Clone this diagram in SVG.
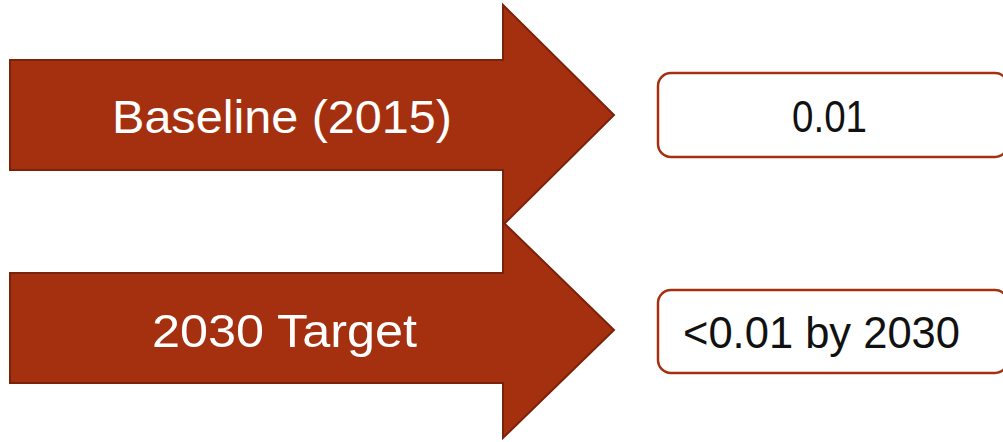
<svg xmlns="http://www.w3.org/2000/svg" width="1003" height="442" viewBox="0 0 1003 442">
<style>
.arrow{fill:#A5300F;stroke:#7B220A;stroke-width:2;stroke-linejoin:miter}
.box{fill:#FFFFFF;stroke:#A5300F;stroke-width:2.5}
.lbl{font-family:"Liberation Sans",Arial,sans-serif;font-size:46px;fill:#FFFFFF}
.val{font-family:"Liberation Sans",Arial,sans-serif;font-size:44px;fill:#111111}
</style>
<rect width="1003" height="442" fill="#FFFFFF"/>
<g id="arrow-baseline">
<polygon class="arrow" points="10,60 503,60 503,5 614,115 503,225 503,170 10,170"/>
<text class="lbl" x="112" y="133" textLength="340" lengthAdjust="spacingAndGlyphs">Baseline (2015)</text>
</g>
<g id="arrow-target">
<polygon class="arrow" points="10,273 503,273 503,222 614,330 503,438 503,383 10,383"/>
<text class="lbl" x="152" y="347" textLength="265" lengthAdjust="spacingAndGlyphs">2030 Target</text>
</g>
<g id="box-baseline">
<rect class="box" x="658" y="73" width="350" height="84" rx="13" ry="13"/>
<text class="val" x="792" y="132" textLength="75" lengthAdjust="spacingAndGlyphs">0.01</text>
</g>
<g id="box-target">
<rect class="box" x="658" y="290" width="350" height="83" rx="13" ry="13"/>
<text class="val" x="683" y="348" textLength="277" lengthAdjust="spacingAndGlyphs">&lt;0.01 by 2030</text>
</g>
<g id="connectors"></g>
</svg>
